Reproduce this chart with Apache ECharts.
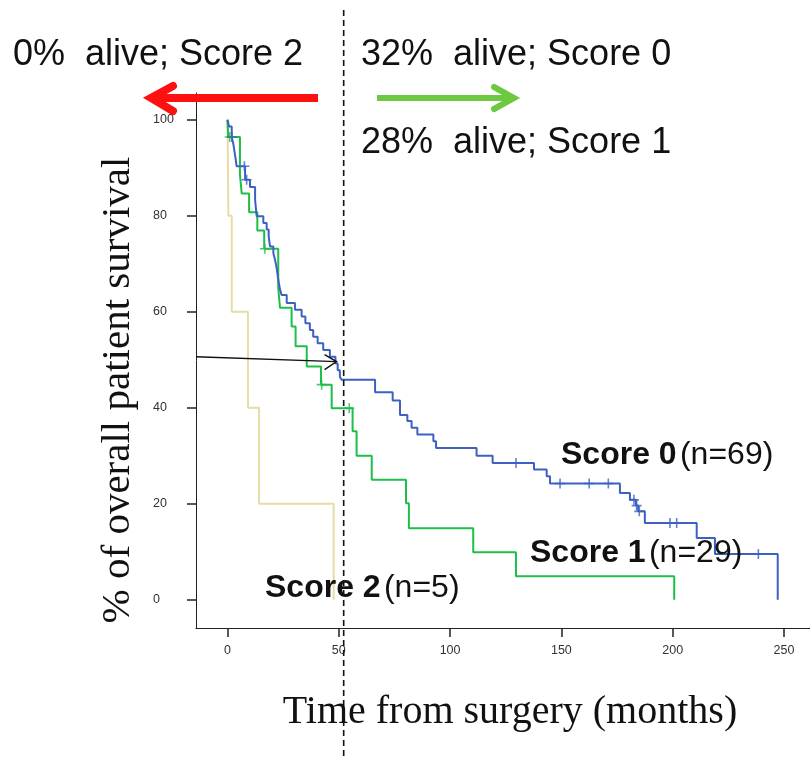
<!DOCTYPE html>
<html><head><meta charset="utf-8">
<script src="https://cdn.jsdelivr.net/npm/echarts@6/dist/echarts.min.js"></script>
<style>html,body{margin:0;padding:0;background:#fff}#c{width:810px;height:760px}</style>
</head><body><div id="c"></div>
<script>
const xTicks = [0, 50, 100, 150, 200, 250];
const yTicks = [0, 20, 40, 60, 80, 100];
const score0 = [[0,100],[0.7,98.6],[1.9,96.4],[2.6,95.0],[3.1,93.5],[3.6,92.0],[4.1,90.3],[7.9,87.5],[10.1,86.0],[12.4,83.3],[13.1,79.9],[16.1,78.5],[17.6,77.1],[18.5,75.7],[19.1,73.6],[20.6,72.2],[21.4,70.7],[22.1,69.1],[22.8,66.7],[23.6,64.6],[24.3,63.5],[26.6,61.8],[30.3,60.4],[33.3,59.0],[35.0,57.6],[37.0,56.2],[38.5,54.8],[40.5,53.4],[43.0,52.0],[46.0,50.6],[48.5,49.2],[49.5,47.8],[50.5,46.4],[51.3,45.8],[66.3,43.2],[74.2,41.5],[77.5,38.5],[80.8,37.2],[82.7,35.8],[85.3,34.4],[92.5,33.0],[93.7,31.6],[111.9,30.0],[119.1,28.5],[137.7,27.1],[143.4,25.7],[144.9,24.2],[176.3,22.2],[180.8,20.8],[183.5,19.6],[184.5,18.4],[187.5,16.0],[210.8,12.85],[219.0,9.5],[247.2,0]];
const score0Censor = [[2.0,96.4],[7.6,90.3],[8.6,87.5],[129.6,28.5],[149.4,24.2],[162.5,24.2],[171.1,24.2],[182.6,20.8],[183.8,19.6],[185.0,18.4],[198.8,16.0],[201.8,16.0],[238.5,9.5]];
const score1 = [[0,100],[0.3,96.4],[5.6,88.5],[6.4,84.6],[9.7,80.7],[13.4,76.9],[16.5,73.1],[22.8,64.9],[23.6,60.8],[28.8,56.9],[30.6,52.8],[35.6,48.6],[42.0,44.8],[46.8,39.9],[56.2,35.1],[58.0,30.0],[64.8,25.0],[80.2,20.1],[81.5,14.9],[110.4,9.9],[129.6,4.9],[200.7,0]];
const score1Censor = [[1.0,96.4],[16.8,73.1],[42.3,44.8],[54.7,39.9]];
const score2 = [[0,100],[0.4,80],[1.9,60],[9.2,40],[14.2,20],[47.7,0]];
const medianArrow = [[-14.15,50.6],[49.0,49.6]];
const cutoffMonth = 52.2;

const BLUE = '#3D61C2', GREEN = '#1EBE4B', TAN = '#E8DCA6';
const SANS = '"Liberation Sans", Arial, sans-serif';
const SERIF = '"Liberation Serif", "Times New Roman", serif';
const plus = 'path://M5,0L5,10M0,5L10,5';

const chart = echarts.init(document.getElementById('c'), null, {renderer:'canvas'});
const axisCol = '#222';
chart.setOption({
  animation: false,
  backgroundColor: '#fff',
  grid: {left:196, top:93, right:0, bottom:132, containLabel:false, outerBoundsMode:'none'},
  xAxis: {type:'value', min:-14.15, max:261.7,
    axisLine:{show:true, onZero:false, lineStyle:{color:axisCol, width:1}},
    axisTick:{show:true, customValues:xTicks, length:9, lineStyle:{color:axisCol, width:1.5}},
    axisLabel:{customValues:xTicks, fontSize:12.5, color:'#333', margin:16, fontFamily:SANS},
    splitLine:{show:false}},
  yAxis: {type:'value', min:-5.9, max:105.56,
    axisLine:{show:true, onZero:false, lineStyle:{color:axisCol, width:1}},
    axisTick:{show:true, customValues:yTicks, length:9, lineStyle:{color:axisCol, width:1.5}},
    axisLabel:{customValues:yTicks, fontSize:12.5, color:'#333', margin:43, align:'left', fontFamily:SANS},
    splitLine:{show:false}},
  series: [
    {type:'line', data:score2, step:'end', showSymbol:false, lineStyle:{color:TAN, width:2}, z:2},
    {type:'line', data:score1, step:'end', showSymbol:false, lineStyle:{color:GREEN, width:2}, z:3},
    {type:'line', data:score0, step:'end', showSymbol:false, lineStyle:{color:BLUE, width:2}, z:4},
    {type:'scatter', data:score1Censor, symbol:plus, symbolSize:10, itemStyle:{color:'none', borderColor:GREEN, borderWidth:1.6}, z:5},
    {type:'scatter', data:score0Censor, symbol:plus, symbolSize:10, itemStyle:{color:'none', borderColor:BLUE, borderWidth:1.6}, z:5}
  ]
});

const px = v => chart.convertToPixel({gridIndex:0}, v);
const cx = px([cutoffMonth, 0])[0];
const a0 = px(medianArrow[0]), a1 = px(medianArrow[1]);

function txt(x, y, text) {
  return {type:'text', x:x, y:y, z:100,
    style:{text:text, fontFamily:SANS, fontSize:36, fill:'#111', textAlign:'left', textVerticalAlign:'middle'}};
}
const rich = {b:{fontWeight:'bold', fontSize:32, fontFamily:SANS, fill:'#111'}, n:{fontSize:32, fontFamily:SANS, fill:'#111'}};

chart.setOption({graphic: [
  {type:'line', z:90, shape:{x1:cx, y1:10, x2:cx, y2:760}, style:{stroke:'#111', lineWidth:1.6, lineDash:[6,4]}},
  {type:'line', z:90, shape:{x1:a0[0], y1:a0[1], x2:a1[0], y2:a1[1]}, style:{stroke:'#111', lineWidth:1.4}},
  {type:'polyline', z:90, shape:{points:[[a1[0]-12, a1[1]-7],[a1[0], a1[1]],[a1[0]-12, a1[1]+8]]}, style:{stroke:'#111', lineWidth:1.4, fill:null}},
  {type:'line', z:90, shape:{x1:318, y1:98, x2:153, y2:98}, style:{stroke:'#FF1010', lineWidth:8}},
  {type:'polyline', z:90, shape:{points:[[173,86],[151,98],[173,111]]}, style:{stroke:'#FF1010', lineWidth:8, fill:null, lineCap:'round', lineJoin:'miter'}},
  {type:'line', z:90, shape:{x1:377, y1:98, x2:512, y2:98}, style:{stroke:'#6DC93F', lineWidth:6}},
  {type:'polyline', z:90, shape:{points:[[494,87],[514,98],[494,109]]}, style:{stroke:'#6DC93F', lineWidth:6, fill:null, lineCap:'round'}},
  txt(13, 55, '0%  alive; Score 2'),
  txt(361, 55, '32%  alive; Score 0'),
  txt(361, 143, '28%  alive; Score 1'),
  {type:'text', x:561, y:455, z:100, style:{text:'{b|Score 0} {n|(n=69)}', rich:rich, textVerticalAlign:'middle'}},
  {type:'text', x:530, y:553, z:100, style:{text:'{b|Score 1} {n|(n=29)}', rich:rich, textVerticalAlign:'middle'}},
  {type:'text', x:265, y:588, z:100, style:{text:'{b|Score 2} {n|(n=5)}', rich:rich, textVerticalAlign:'middle'}},
  {type:'text', x:510, y:712, z:100, style:{text:'Time from surgery (months)', fontFamily:SERIF, fontSize:40, fill:'#111', textAlign:'center', textVerticalAlign:'middle'}},
  {type:'text', x:118, y:390, z:100, rotation:Math.PI/2, style:{text:'% of overall patient survival', fontFamily:SERIF, fontSize:41, fill:'#111', textAlign:'center', textVerticalAlign:'middle'}}
]});
</script>
</body></html>
